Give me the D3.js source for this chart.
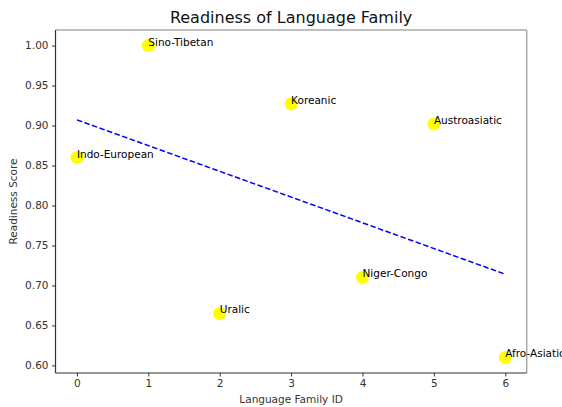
<!DOCTYPE html>
<html>
<head>
<meta charset="utf-8">
<script src="https://cdn.jsdelivr.net/npm/d3@7"></script>
<style>
  body { margin: 0; background: #fff; }
  text { font-family: "DejaVu Sans", sans-serif; }
</style>
</head>
<body>
<script>
'use strict';

// data
var familyIds = [0, 1, 2, 3, 4, 5, 6];
var familyNames = ['Indo-European', 'Sino-Tibetan', 'Uralic', 'Koreanic', 'Niger-Congo', 'Austroasiatic', 'Afro-Asiatic'];
var readiness = [0.860, 1.000, 0.665, 0.927, 0.710, 0.902, 0.610];
var xTicks = [0, 1, 2, 3, 4, 5, 6];
var yTicks = [0.60, 0.65, 0.70, 0.75, 0.80, 0.85, 0.90, 0.95, 1.00];

var width = 562, height = 407;
// plot box (named plot* because window.top is read-only)
var plotLeft = 55.5, plotRight = 526.7, plotTop = 30, plotBottom = 373;

var svg = d3.select('body').append('svg')
    .attr('width', width)
    .attr('height', height);

// matplotlib style 5% margins
var xMin = d3.min(familyIds), xMax = d3.max(familyIds);
var yMin = d3.min(readiness), yMax = d3.max(readiness);
var xPad = (xMax - xMin) * 0.05, yPad = (yMax - yMin) * 0.05;

var x = d3.scaleLinear().domain([xMin - xPad, xMax + xPad]).range([plotLeft, plotRight]);
var y = d3.scaleLinear().domain([yMin - yPad, yMax + yPad]).range([plotBottom, plotTop]);

// least squares fit line
var mx = d3.mean(familyIds), my = d3.mean(readiness);
var sxy = 0, sxx = 0;
familyIds.forEach(function (d, i) {
  sxy += (d - mx) * (readiness[i] - my);
  sxx += (d - mx) * (d - mx);
});
var slope = sxy / sxx;
var intercept = my - slope * mx;

// frame: top/right grey, left/bottom dark
svg.append('line').attr('x1', plotLeft).attr('x2', plotRight).attr('y1', plotTop).attr('y2', plotTop)
  .attr('stroke', '#aaa').attr('stroke-width', 1.5);
svg.append('line').attr('x1', plotRight).attr('x2', plotRight).attr('y1', plotTop).attr('y2', plotBottom)
  .attr('stroke', '#aaa').attr('stroke-width', 1.5);

// points
svg.append('g').selectAll('circle')
  .data(familyIds)
  .enter().append('circle')
  .attr('cx', function (d) { return x(d); })
  .attr('cy', function (d, i) { return y(readiness[i]); })
  .attr('r', 6.5)
  .attr('fill', '#ffff00');

// regression line
svg.append('line')
  .attr('x1', x(xMin)).attr('y1', y(intercept + slope * xMin))
  .attr('x2', x(xMax)).attr('y2', y(intercept + slope * xMax))
  .attr('stroke', '#0000ff')
  .attr('stroke-width', 1.5)
  .attr('stroke-dasharray', '5.5,2.5');

// labels next to points
svg.append('g').selectAll('text')
  .data(familyIds)
  .enter().append('text')
  .attr('x', function (d) { return x(d); })
  .attr('y', function (d, i) { return y(readiness[i]); })
  .style('font-size', '10.5px')
  .attr('fill', '#000')
  .text(function (d, i) { return familyNames[i]; });

// axes
var xAxis = svg.append('g')
  .attr('transform', 'translate(0,' + plotBottom + ')')
  .call(d3.axisBottom(x).tickValues(xTicks).tickFormat(d3.format('d')).tickSize(3.5).tickPadding(3.5));
var yAxis = svg.append('g')
  .attr('transform', 'translate(' + plotLeft + ',0)')
  .call(d3.axisLeft(y).tickValues(yTicks).tickFormat(d3.format('.2f')).tickSize(3.5).tickPadding(3.5));

[xAxis, yAxis].forEach(function (a) {
  a.select('.domain').attr('stroke', '#333').attr('stroke-width', 1.2);
  a.selectAll('.tick line').attr('stroke', '#333');
  a.selectAll('.tick text').attr('fill', '#333').style('font-size', '10.5px').style('font-family', '"DejaVu Sans", sans-serif');
});
xAxis.select('.domain').attr('d', 'M' + plotLeft + ',0H' + plotRight);
yAxis.select('.domain').attr('d', 'M0,' + plotTop + 'V' + plotBottom);

// titles
svg.append('text')
  .attr('x', (plotLeft + plotRight) / 2)
  .attr('y', 23)
  .attr('text-anchor', 'middle')
  .style('font-size', '16px')
  .attr('fill', '#111')
  .text('Readiness of Language Family');

svg.append('text')
  .attr('x', (plotLeft + plotRight) / 2)
  .attr('y', 403)
  .attr('text-anchor', 'middle')
  .style('font-size', '10.5px')
  .attr('fill', '#333')
  .text('Language Family ID');

svg.append('text')
  .attr('transform', 'translate(17,' + ((plotTop + plotBottom) / 2) + ') rotate(-90)')
  .attr('text-anchor', 'middle')
  .style('font-size', '10.5px')
  .attr('fill', '#333')
  .text('Readiness Score');
</script>
</body>
</html>
